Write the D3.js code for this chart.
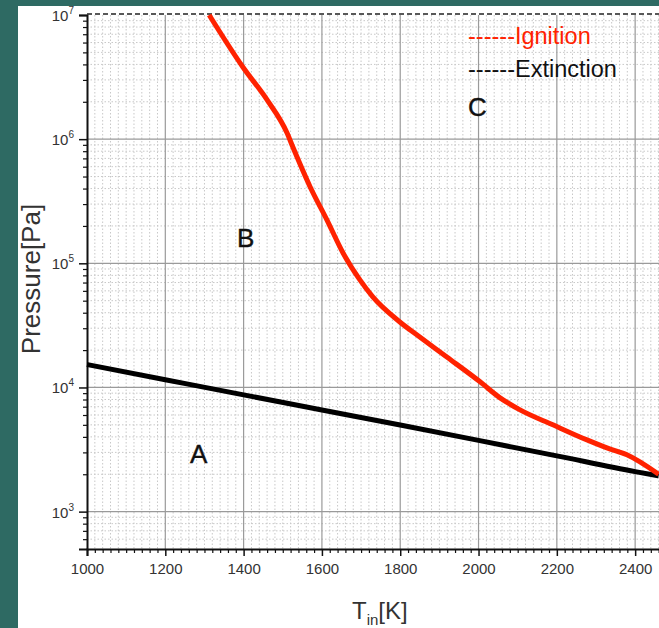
<!DOCTYPE html>
<html>
<head>
<meta charset="utf-8">
<script src="https://cdn.jsdelivr.net/npm/d3@7"></script>
<style>
  body { margin: 0; background: #2e6a63; overflow: hidden; }
  svg text { font-family: "Liberation Sans", Arial, sans-serif; }
</style>
</head>
<body>
<div id="chart"></div>
<script>
// Ignition curve (T in K, P in Pa)
var ignT = [1312, 1398, 1460, 1511, 1526, 1570, 1613, 1654, 1697, 1730, 1799, 1850, 1919, 2004, 2055, 2106, 2190, 2277, 2328, 2379, 2460];
var ignP = [1.0e7, 3.81e6, 2.07e6, 1.12e6, 8.6e5, 4.12e5, 2.23e5, 1.21e5, 7.35e4, 5.36e4, 3.37e4, 2.55e4, 1.76e4, 1.11e4, 8.25e3, 6.6e3, 5.0e3, 3.78e3, 3.26e3, 2.87e3, 2.0e3];

// Extinction curve
var extT = [1000, 1200, 1400, 1600, 1800, 2000, 2200, 2400, 2460];
var extP = [15300, 11550, 8720, 6590, 4980, 3750, 2810, 2100, 1940];

var xTicks = [1000, 1200, 1400, 1600, 1800, 2000, 2200, 2400];
var yTicks = [1e3, 1e4, 1e5, 1e6, 1e7];
var yExps = ["3", "4", "5", "6", "7"];

var regionNames = ["A", "B", "C"];
var regionT = [1285, 1405, 1997];
var regionP = [2.45e3, 1.35e5, 1.55e6];

var legendNames = ["------Ignition", "------Extinction"];
var legendColors = ["#ff2200", "#111"];

var W = 659, H = 628;

var svg = d3.select("#chart").append("svg")
    .attr("width", W)
    .attr("height", H);

// white panel on teal background
svg.append("rect")
    .attr("x", 18).attr("y", 6)
    .attr("width", W - 18).attr("height", H - 6)
    .attr("fill", "#fff");

var x = d3.scaleLinear().domain([1000, 2500]).range([87, 674.3]);
var y = d3.scaleLog().domain([500, 1e7]).range([549, 15]);

var plotTop = y(1e7), plotBot = y(500), plotLeft = x(1000), plotRight = x(2500);

var grid = svg.append("g");

// minor vertical grid every 20 K
var minorX = d3.range(1020, 2500, 20).filter(function(t) { return t % 200 !== 0; });
grid.selectAll(".vminor").data(minorX).enter().append("line")
    .attr("x1", function(d) { return x(d); }).attr("x2", function(d) { return x(d); })
    .attr("y1", plotTop).attr("y2", plotBot)
    .attr("stroke", "#c8c8c8").attr("stroke-width", 1)
    .attr("stroke-dasharray", "1.5,2");

// minor horizontal grid 2..9 per decade
var minorY = [];
[100, 1e3, 1e4, 1e5, 1e6].forEach(function(dec) {
  for (var k = 2; k <= 9; k++) {
    var v = dec * k;
    if (v > 500 && v < 1e7) minorY.push(v);
  }
});
grid.selectAll(".hminor").data(minorY).enter().append("line")
    .attr("x1", plotLeft).attr("x2", plotRight)
    .attr("y1", function(d) { return y(d); }).attr("y2", function(d) { return y(d); })
    .attr("stroke", "#c8c8c8").attr("stroke-width", 1)
    .attr("stroke-dasharray", "1.5,2");

// major grid
grid.selectAll(".vmajor").data(xTicks.slice(1)).enter().append("line")
    .attr("x1", function(d) { return x(d); }).attr("x2", function(d) { return x(d); })
    .attr("y1", plotTop).attr("y2", plotBot)
    .attr("stroke", "#9a9a9a").attr("stroke-width", 1.2);
grid.selectAll(".hmajor").data(yTicks.slice(0, 4)).enter().append("line")
    .attr("x1", plotLeft).attr("x2", plotRight)
    .attr("y1", function(d) { return y(d); }).attr("y2", function(d) { return y(d); })
    .attr("stroke", "#9a9a9a").attr("stroke-width", 1.2);

// dashed top border
svg.append("line")
    .attr("x1", plotLeft).attr("x2", plotRight)
    .attr("y1", plotTop - 1).attr("y2", plotTop - 1)
    .attr("stroke", "#222").attr("stroke-width", 1.5)
    .attr("stroke-dasharray", "5,3");

// x axis
var xAxis = d3.axisBottom(x).tickValues(xTicks).tickSize(7).tickFormat(d3.format("d"));
var gx = svg.append("g")
    .attr("transform", "translate(0," + plotBot + ")")
    .call(xAxis);
gx.select(".domain").attr("stroke", "#111").attr("stroke-width", 2);
gx.selectAll(".tick line").attr("stroke", "#111").attr("stroke-width", 1.5);
gx.selectAll(".tick text")
    .attr("y", 25).attr("dy", 0)
    .attr("font-size", 15).attr("fill", "#333");

var gxm = svg.append("g")
    .attr("transform", "translate(0," + plotBot + ")")
    .call(d3.axisBottom(x).tickValues(minorX).tickSize(4).tickFormat(""));
gxm.select(".domain").remove();
gxm.selectAll(".tick line").attr("stroke", "#111").attr("stroke-width", 1.2);

// y axis
var yAxis = d3.axisLeft(y).tickValues(yTicks).tickSize(8).tickFormat("");
var gy = svg.append("g")
    .attr("transform", "translate(" + plotLeft + ",0)")
    .call(yAxis);
gy.select(".domain").attr("stroke", "#111").attr("stroke-width", 2);
gy.selectAll(".tick line").attr("stroke", "#111").attr("stroke-width", 1.5);

var gym = svg.append("g")
    .attr("transform", "translate(" + plotLeft + ",0)")
    .call(d3.axisLeft(y).tickValues(minorY).tickSize(4).tickFormat(""));
gym.select(".domain").remove();
gym.selectAll(".tick line").attr("stroke", "#111").attr("stroke-width", 1.2);

var ylab = svg.selectAll(".ylab").data(yTicks).enter().append("text")
    .attr("class", "ylab")
    .attr("x", 74)
    .attr("y", function(d) { return y(d) + 6; })
    .attr("text-anchor", "end")
    .attr("font-size", 15)
    .attr("fill", "#333");
ylab.append("tspan").text("10");
ylab.append("tspan")
    .attr("dy", -7).attr("font-size", 10)
    .text(function(d, i) { return yExps[i]; });

// curves
var line = d3.line()
    .x(function(d) { return x(d[0]); })
    .y(function(d) { return y(d[1]); })
    .curve(d3.curveMonotoneX);

var extData = extT.map(function(t, i) { return [t, extP[i]]; });
var ignData = ignT.map(function(t, i) { return [t, ignP[i]]; });

svg.append("path")
    .datum(extData)
    .attr("d", line)
    .attr("fill", "none")
    .attr("stroke", "#000")
    .attr("stroke-width", 5);

svg.append("path")
    .datum(ignData)
    .attr("d", line)
    .attr("fill", "none")
    .attr("stroke", "#ff2200")
    .attr("stroke-width", 5);

// region labels
svg.selectAll(".region").data(regionNames).enter().append("text")
    .attr("x", function(d, i) { return x(regionT[i]); })
    .attr("y", function(d, i) { return y(regionP[i]); })
    .attr("text-anchor", "middle")
    .attr("font-size", 26)
    .attr("stroke", "#111").attr("stroke-width", 0.4)
    .attr("fill", "#111")
    .text(function(d) { return d; });

// legend
svg.selectAll(".legend").data(legendNames).enter().append("text")
    .attr("x", 468)
    .attr("y", function(d, i) { return 44 + i * 33; })
    .attr("font-size", 23.5)
    .attr("fill", function(d, i) { return legendColors[i]; })
    .text(function(d) { return d; });

// axis titles
svg.append("text")
    .attr("transform", "translate(40,279) rotate(-90)")
    .attr("text-anchor", "middle")
    .attr("font-size", 26)
    .attr("fill", "#333")
    .text("Pressure[Pa]");

var xt = svg.append("text")
    .attr("x", 352)
    .attr("y", 619)
    .attr("font-size", 24)
    .attr("fill", "#333");
xt.append("tspan").text("T");
xt.append("tspan").attr("dy", 6).attr("font-size", 15).text("in");
xt.append("tspan").attr("dy", -6).text("[K]");
</script>
</body>
</html>
